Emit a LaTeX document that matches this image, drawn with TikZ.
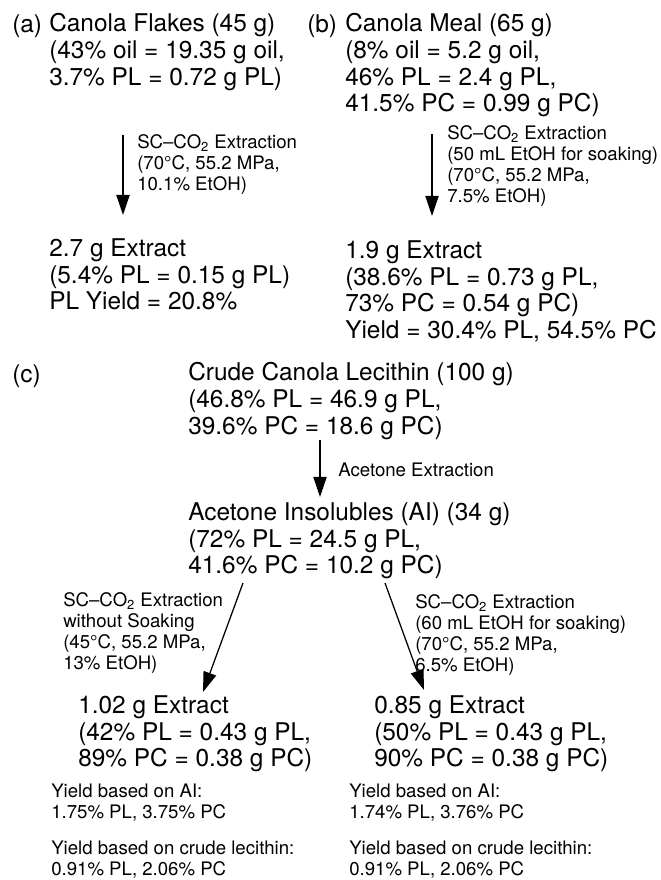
\documentclass[tikz,border=0pt]{standalone}
\usepackage{fontspec}
\setmainfont{TeX Gyre Heros}
\usetikzlibrary{arrows.meta}

\begin{document}
\begin{tikzpicture}[
  x=0.025cm, y=-0.025cm,
  stage/.style={anchor=north west, yshift=13.29pt, align=left, inner sep=0pt,
    font=\fontsize{17.36}{18.99}\selectfont, execute at begin node=\strut},
  cond/.style={anchor=north west, yshift=10.46pt, align=left, inner sep=0pt,
    font=\fontsize{13.24}{14.94}\selectfont, execute at begin node=\strut},
  flow/.style={-{Triangle[length=0.5cm, width=0.33cm]}, line width=0.9pt},
]
  \useasboundingbox (0,0) rectangle (660,880);

  % (a) canola flakes
  \node[stage] (tagA) at (12,32) {(a)};
  \node[stage] (flakes) at (49,32)
    {Canola Flakes (45 g)\\(43\% oil = 19.35 g oil,\\3.7\% PL = 0.72 g PL)};
  \coordinate (aTop) at (123,135);
  \coordinate (aTip) at (123,215);
  \draw[flow] (aTop) -- (aTip);
  \node[cond] (condA) at (137,149)
    {SC--CO\textsubscript{2} Extraction\\(70°C, 55.2 MPa,\\10.1\% EtOH)};
  \node[stage] (extractA) at (49,257)
    {2.7 g Extract\\(5.4\% PL = 0.15 g PL)\\PL Yield = 20.8\%};

  % (b) canola meal
  \node[stage] (tagB) at (307,32) {(b)};
  \node[stage] (meal) at (345,32)
    {Canola Meal (65 g)\\(8\% oil = 5.2 g oil,\\46\% PL = 2.4 g PL,\\41.5\% PC = 0.99 g PC)};
  \coordinate (bTop) at (432,134);
  \coordinate (bTip) at (432,216);
  \draw[flow] (bTop) -- (bTip);
  \node[cond] (condB) at (447,140)
    {SC--CO\textsubscript{2} Extraction\\(50 mL EtOH for soaking)\\(70°C, 55.2 MPa,\\7.5\% EtOH)};
  \node[stage] (extractB) at (345,259)
    {1.9 g Extract\\(38.6\% PL = 0.73 g PL,\\73\% PC = 0.54 g PC)\\Yield = 30.4\% PL, 54.5\% PC};

  % (c) crude lecithin
  \node[stage] (tagC) at (12,382) {(c)};
  \node[stage] (crude) at (188,381)
    {Crude Canola Lecithin (100 g)\\(46.8\% PL = 46.9 g PL,\\39.6\% PC = 18.6 g PC)};
  \coordinate (cTop) at (320,440);
  \coordinate (cTip) at (320,497);
  \draw[flow] (cTop) -- (cTip);
  \node[cond] (condAce) at (338,476) {Acetone Extraction};
  \node[stage] (insol) at (188,521)
    {Acetone Insolubles (AI) (34 g)\\(72\% PL = 24.5 g PL,\\41.6\% PC = 10.2 g PC)};

  % two branches from the insolubles
  \coordinate (lTop) at (243,583);
  \coordinate (lTip) at (203,692);
  \coordinate (rTop) at (385,583);
  \coordinate (rTip) at (424,690);
  \draw[flow] (lTop) -- (lTip);
  \draw[flow] (rTop) -- (rTip);
  \node[cond] (condL) at (63,607)
    {SC--CO\textsubscript{2} Extraction\\without Soaking\\(45°C, 55.2 MPa,\\13\% EtOH)};
  \node[cond] (condR) at (415,609)
    {SC--CO\textsubscript{2} Extraction\\(60 mL EtOH for soaking)\\(70°C, 55.2 MPa,\\6.5\% EtOH)};
  \node[stage] (extractL) at (78,714)
    {1.02 g Extract\\(42\% PL = 0.43 g PL,\\89\% PC = 0.38 g PC)};
  \node[stage] (extractR) at (374,714)
    {0.85 g Extract\\(50\% PL = 0.43 g PL,\\90\% PC = 0.38 g PC)};

  % yields
  \node[cond] (yieldLai) at (51,798) {Yield based on AI:\\1.75\% PL, 3.75\% PC};
  \node[cond] (yieldLcrude) at (51,855) {Yield based on crude lecithin:\\0.91\% PL, 2.06\% PC};
  \node[cond] (yieldRai) at (349,798) {Yield based on AI:\\1.74\% PL, 3.76\% PC};
  \node[cond] (yieldRcrude) at (349,855) {Yield based on crude lecithin:\\0.91\% PL, 2.06\% PC};
\end{tikzpicture}
\end{document}
